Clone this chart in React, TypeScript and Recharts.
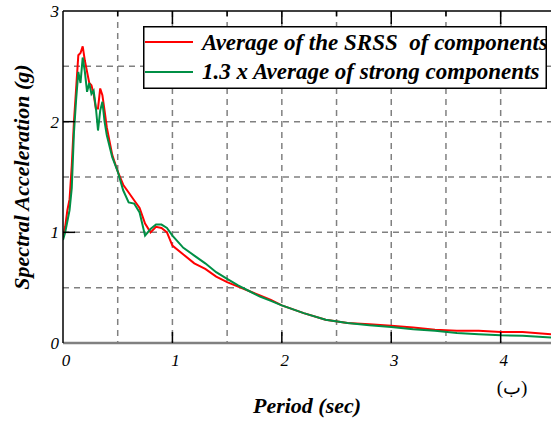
import {
  CartesianGrid,
  Label,
  Legend,
  Line,
  LineChart,
  ReferenceLine,
  XAxis,
  YAxis,
} from "recharts";

const periods = [
  0, 0.02, 0.04, 0.06, 0.08, 0.1, 0.12, 0.14, 0.16, 0.18, 0.2, 0.22, 0.24, 0.26, 0.28, 0.3,
  0.32, 0.34, 0.36, 0.38, 0.4, 0.45, 0.5, 0.55, 0.6, 0.65, 0.7, 0.75, 0.8, 0.85, 0.9, 0.95,
  1.0, 1.1, 1.2, 1.3, 1.4, 1.5, 1.6, 1.7, 1.8, 1.9, 2.0, 2.2, 2.4, 2.6, 2.8, 3.0, 3.2, 3.4,
  3.6, 3.8, 4.0, 4.2, 4.46,
];

const srssAverage = [
  0.95, 1.05, 1.2, 1.3, 1.6, 2.0, 2.3, 2.6, 2.62, 2.68, 2.55, 2.45, 2.35, 2.33, 2.25, 2.12,
  2.12, 2.3, 2.24, 2.1, 1.95, 1.7, 1.55, 1.43, 1.36, 1.29, 1.22, 1.08, 1.0, 1.05, 1.04, 1.0,
  0.88, 0.8, 0.72, 0.67, 0.6, 0.55, 0.51, 0.47, 0.43, 0.39, 0.34, 0.27, 0.21, 0.18, 0.17,
  0.155, 0.14, 0.12, 0.11, 0.11, 0.1, 0.1, 0.08,
];

const strongAverage = [
  0.93, 1.0, 1.1, 1.2, 1.4, 1.9, 2.2, 2.45, 2.35, 2.58, 2.45, 2.27, 2.35, 2.25, 2.28, 2.13,
  1.92, 2.1, 2.18, 2.0, 1.88, 1.68, 1.55, 1.38, 1.27, 1.26, 1.18, 0.97, 1.03, 1.07, 1.07,
  1.04, 0.97, 0.86, 0.79, 0.72, 0.64, 0.58, 0.52, 0.47, 0.42, 0.38, 0.34, 0.27, 0.21, 0.18,
  0.16, 0.145, 0.125, 0.11, 0.09, 0.08, 0.07, 0.065, 0.05,
];

const seriesNames = [
  "Average of the SRSS  of components",
  "1.3 x Average of strong components",
];
const seriesColors = ["#ff0000", "#008f45"];

// ticks every 0.5 s, only whole seconds get a label
const xTicks = [0, 0.5, 1, 1.5, 2, 2.5, 3, 3.5, 4];
const yTicks = [0, 1, 2, 3];
const gridX = [0.5, 1, 1.5, 2, 2.5, 3, 3.5, 4];
const gridY = [0.5, 1, 1.5, 2, 2.5];

const data = periods.map((t, i) => ({
  period: t,
  srss: srssAverage[i],
  strong: strongAverage[i],
}));

const serif = "Liberation Serif, DejaVu Serif, Times New Roman, serif";
const PLOT_TOP = 11;

function XTick({ x, y, payload }: any) {
  const v = payload.value;
  const whole = Number.isInteger(v);
  return (
    <g>
      {v > 0 && whole && <line x1={x} x2={x} y1={y - 11} y2={y - 22} stroke="#000" strokeWidth={1.5} />}
      {v > 0 && (
        <line x1={x} x2={x} y1={PLOT_TOP} y2={PLOT_TOP + (whole ? 13 : 5)} stroke="#000" strokeWidth={1.5} />
      )}
      {whole && (
        <text
          x={x + 3}
          y={y}
          dy="0.71em"
          textAnchor="middle"
          style={{ fontFamily: serif, fontSize: 17, fontStyle: "italic", fill: "#000" }}
        >
          {v}
        </text>
      )}
    </g>
  );
}

function YTick({ x, y, payload }: any) {
  const v = payload.value;
  return (
    <g>
      {v > 0 && v < 3 && <line x1={x + 4} x2={x + 16} y1={y} y2={y} stroke="#000" strokeWidth={1.5} />}
      <text
        x={x}
        y={y}
        dy="0.35em"
        textAnchor="end"
        style={{ fontFamily: serif, fontSize: 17, fontStyle: "italic", fill: "#000" }}
      >
        {v}
      </text>
    </g>
  );
}

function LegendBox({ payload }: any) {
  // keep the order of seriesNames, whatever order the payload comes in
  const items = [...(payload ?? [])].sort(
    (a: any, b: any) => seriesNames.indexOf(a.value) - seriesNames.indexOf(b.value),
  );
  return (
    <svg width={404} height={63} style={{ display: "block" }}>
      <rect x={0.75} y={0.75} width={402.5} height={61.5} fill="#fff" stroke="#000" strokeWidth={1.5} />
      {items.map((item: any, i: number) => (
        <g key={item.value}>
          <line x1={2} x2={50} y1={16 + i * 30} y2={16 + i * 30} stroke={item.color} strokeWidth={2} />
          <text
            x={59}
            y={24 + i * 29}
            style={{
              whiteSpace: "pre",
              fontFamily: serif,
              fontSize: 23,
              fontWeight: "bold",
              fontStyle: "italic",
            }}
          >
            {item.value}
          </text>
        </g>
      ))}
    </svg>
  );
}

export default function App() {
  return (
    <div style={{ position: "absolute", left: 0, top: 0, background: "#fff", fontFamily: serif }}>
      <LineChart width={551} height={423} data={data} margin={{ top: PLOT_TOP, right: 0, left: 0, bottom: 0 }}>
        <CartesianGrid
          verticalValues={gridX}
          horizontalValues={gridY}
          stroke="#808080"
          strokeWidth={1.5}
          strokeDasharray="6 5"
        />
        <XAxis
          dataKey="period"
          type="number"
          domain={[0, 4.46]}
          ticks={xTicks}
          interval={0}
          allowDataOverflow
          height={80}
          tickLine={false}
          tickSize={0}
          tickMargin={11}
          tick={<XTick />}
          axisLine={{ stroke: "#808080", strokeWidth: 2.5 }}
        >
          <Label
            content={({ viewBox }: any) => (
              <text
                x={viewBox.x + viewBox.width / 2}
                y={viewBox.y + 70}
                textAnchor="middle"
                style={{ fontFamily: serif, fontSize: 22, fontWeight: "bold", fontStyle: "italic" }}
              >
                Period (sec)
              </text>
            )}
          />
          <Label
            content={({ viewBox }: any) => (
              <text
                x={512}
                y={viewBox.y + 44}
                textAnchor="middle"
                dominantBaseline="central"
                style={{ fontFamily: serif, fontSize: 19 }}
              >
                (ب)
              </text>
            )}
          />
        </XAxis>
        <YAxis
          type="number"
          domain={[0, 3]}
          ticks={yTicks}
          interval={0}
          width={63}
          tickLine={false}
          tickSize={0}
          tickMargin={4}
          tick={<YTick />}
          axisLine={{ stroke: "#000", strokeWidth: 1.5 }}
        >
          <Label
            content={({ viewBox }: any) => {
              const cx = 29;
              const cy = viewBox.y + viewBox.height / 2;
              return (
                <text
                  x={cx}
                  y={cy}
                  transform={`rotate(-90 ${cx} ${cy})`}
                  textAnchor="middle"
                  style={{ fontFamily: serif, fontSize: 22, fontWeight: "bold", fontStyle: "italic" }}
                >
                  Spectral Acceleration (g)
                </text>
              );
            }}
          />
        </YAxis>
        <ReferenceLine y={3} stroke="#000" strokeWidth={1.5} />
        <Legend
          layout="horizontal"
          verticalAlign="middle"
          align="center"
          wrapperStyle={{ left: 143, top: 26, width: 404, height: 63 }}
          content={LegendBox}
        />
        <Line
          type="linear"
          dataKey="srss"
          name={seriesNames[0]}
          stroke={seriesColors[0]}
          strokeWidth={2}
          dot={false}
          isAnimationActive={false}
        />
        <Line
          type="linear"
          dataKey="strong"
          name={seriesNames[1]}
          stroke={seriesColors[1]}
          strokeWidth={2}
          dot={false}
          isAnimationActive={false}
        />
      </LineChart>
    </div>
  );
}
